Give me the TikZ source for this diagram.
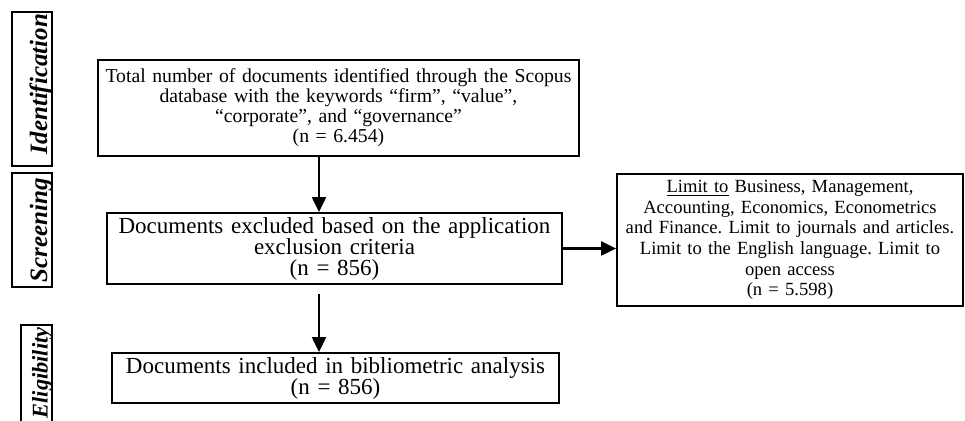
\documentclass[tikz,border=0pt]{standalone}
\usepackage{fontspec}
\setmainfont{Liberation Serif}
\usetikzlibrary{arrows.meta,positioning}
\frenchspacing
\newcommand\tightlines{\lineskiplimit=-5pt\relax}

\begin{document}
\begin{tikzpicture}[x=0.5pt, y=-0.5pt, every node/.style={inner sep=0pt},
    box/.style={draw, line width=0.9pt, align=center},
    phase/.style={draw, line width=0.9pt},
    tag/.style={rotate=90, font=\fontsize{12.5pt}{14pt}\selectfont\bfseries\itshape},
    flow/.style={line width=1.1pt, -{Triangle[length=7.5pt,width=7pt]}}]
      \useasboundingbox (0,0) rectangle (965,421);

      % phase labels on the left
      \node[phase] (idbox) [minimum width=20pt, minimum height=77pt] at (32,89) {};
      \node[phase] (scrbox) [minimum width=20pt, minimum height=57pt] at (32,230) {};
      \node[phase] (elibox) [minimum width=15.5pt, minimum height=57.5pt] at (36.5,382.5) {};
      \node[tag] (idtag) [anchor=south] at ([yshift=2.5pt]idbox.east) {Identification};
      \node[tag] (scrtag) [anchor=south] at (scrbox.east) {Screening};
      \node[tag] (elitag) [anchor=south east, font=\fontsize{11.2pt}{13pt}\selectfont\bfseries\itshape]
        at ([yshift=-1.5pt]elibox.north east) {Eligibility};

      % flow boxes
      \node[box] (total) [minimum width=240.5pt, minimum height=48pt, text width=236pt,
        font=\fontsize{9.85pt}{10pt}\selectfont\tightlines] at (338.5,108)
        {Total number of documents identified through the Scopus\\
         database with the keywords “firm”, “value”,\\
         “corporate”, and “governance”\\ (n = 6.454)};
      \node[box] (excluded) [minimum width=227.5pt, minimum height=35.5pt, text width=223pt,
        font=\fontsize{11.5pt}{10.5pt}\selectfont\tightlines] at (334.5,248.5)
        {Documents excluded based on the application\\ exclusion criteria\\ (n = 856)};
      \node[box] (limits) [minimum width=173pt, minimum height=66pt, text width=169pt,
        font=\fontsize{9.3pt}{10.35pt}\selectfont\tightlines] at (790,240)
        {\underline{Limit to} Business, Management,\\
         Accounting, Economics, Econometrics\\
         and Finance. Limit to journals and articles.\\
         Limit to the English language. Limit to\\ open access\\ (n = 5.598)};
      \node[box] (included) [minimum width=223.5pt, minimum height=25pt, text width=219pt,
        font=\fontsize{11.5pt}{10.5pt}\selectfont\tightlines] at (335.5,378)
        {Documents included in bibliometric analysis\\ (n = 856)};

      \coordinate (spine) at (319,0);

      \draw[] (total.south -| spine) edge [flow] (excluded.north -| spine);
      \draw[] (excluded.south -| spine) edge [flow, shorten <=4.5pt] (included.north -| spine);
      \draw[] (excluded.east) edge [flow] (excluded.east -| limits.west);
\end{tikzpicture}
\end{document}
